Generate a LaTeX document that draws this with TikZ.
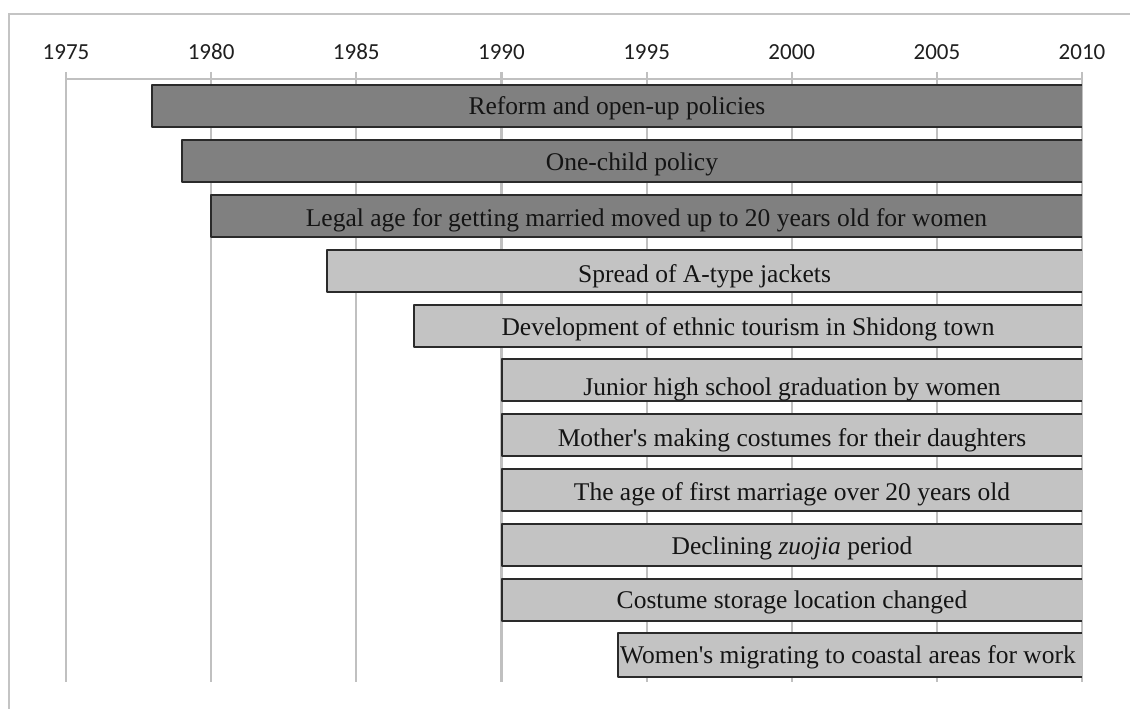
\documentclass[tikz,border=0pt]{standalone}
\usepackage{fontspec}
\setmainfont{Liberation Serif}
\newfontfamily\axisfont{Carlito}
\definecolor{gridgray}{HTML}{C0C0C0}
\definecolor{framegray}{HTML}{C4C4C4}
\definecolor{darkfill}{HTML}{808080}
\definecolor{lightfill}{HTML}{C3C3C3}
\definecolor{edgecol}{HTML}{2A2A2A}
\begin{document}
\begin{tikzpicture}[x=1pt,y=-1pt,
  gridline/.style={draw=gridgray,line width=2.2pt},
  barbox/.style={anchor=north west,minimum height=42pt,inner sep=0pt,outer sep=0pt},
  darkbar/.style={barbox,fill=darkfill},
  lightbar/.style={barbox,fill=lightfill},
  baredge/.style={draw=edgecol,line width=2pt,line join=round},
  lbl/.style={font=\fontsize{25.5}{29}\selectfont,text=black!92,inner sep=0pt},
  yearlbl/.style={font=\axisfont\fontsize{23}{25}\selectfont,text=black!88,inner sep=0pt}]
\useasboundingbox (0,0) rectangle (1130,709);
% frame
\draw[draw=framegray,line width=2.4pt] (9,712) -- (9,14) -- (1133,14);
% grid
\draw[gridline] (66,79) -- (1082,79);
\foreach \yr/\nm in {1975/a,1980/b,1985/c,1990/d,1995/e,2000/f,2005/g,2010/h}{
  \pgfmathsetmacro{\xx}{66+(\yr-1975)*29.03}
  \draw[gridline] (\xx,72) -- (\xx,682);
  \node[yearlbl] (y\nm) at (\xx,52) {\yr};
}
% bars
\node[darkbar,minimum width=930pt] (b1) at (152,85) {};
\node[darkbar,minimum width=900pt] (b2) at (182,140) {};
\node[darkbar,minimum width=871pt] (b3) at (211,195) {};
\node[lightbar,minimum width=755pt] (b4) at (327,250) {};
\node[lightbar,minimum width=668pt] (b5) at (414,305) {};
\node[lightbar,minimum width=580pt] (b6) at (502,359) {};
\node[lightbar,minimum width=580pt] (b7) at (502,414) {};
\node[lightbar,minimum width=580pt] (b8) at (502,469) {};
\node[lightbar,minimum width=580pt] (b9) at (502,524) {};
\node[lightbar,minimum width=580pt] (b10) at (502,579) {};
\node[lightbar,minimum width=464pt,minimum height=44pt] (b11) at (618,633) {};
\foreach \b in {b1,b2,b3,b4,b5,b6,b7,b8,b9,b10,b11}{
  \draw[baredge] (\b.north east) -- (\b.north west) -- (\b.south west) -- (\b.south east);
}
% labels
\node[lbl] (t1) at ([yshift=-2pt]b1.center) {Reform and open-up policies};
\node[lbl] (t2) at ([yshift=-3pt]b2.center) {One-child policy};
\node[lbl] (t3) at ([yshift=-4pt]b3.center) {Legal age for getting married moved up to 20 years old for women};
\node[lbl] (t4) at ([yshift=-5pt]b4.center) {Spread of A-type jackets};
\node[lbl] (t5) at ([yshift=-3pt]b5.center) {Development of ethnic tourism in Shidong town};
\node[lbl] (t6) at ([yshift=-9pt]b6.center) {Junior high school graduation by women};
\node[lbl] (t7) at ([yshift=-5pt]b7.center) {Mother\textquotesingle s making costumes for their daughters};
\node[lbl] (t8) at ([yshift=-4pt]b8.center) {The age of first marriage over 20 years old};
\node[lbl] (t9) at ([yshift=-3pt]b9.center) {Declining \textit{zuojia} period};
\node[lbl] (t10) at ([yshift=-2pt]b10.center) {Costume storage location changed};
\node[lbl,xshift=-2pt] (t11) at ([yshift=-2pt]b11.center) {Women\textquotesingle s migrating to coastal areas for work};
\end{tikzpicture}
\end{document}
